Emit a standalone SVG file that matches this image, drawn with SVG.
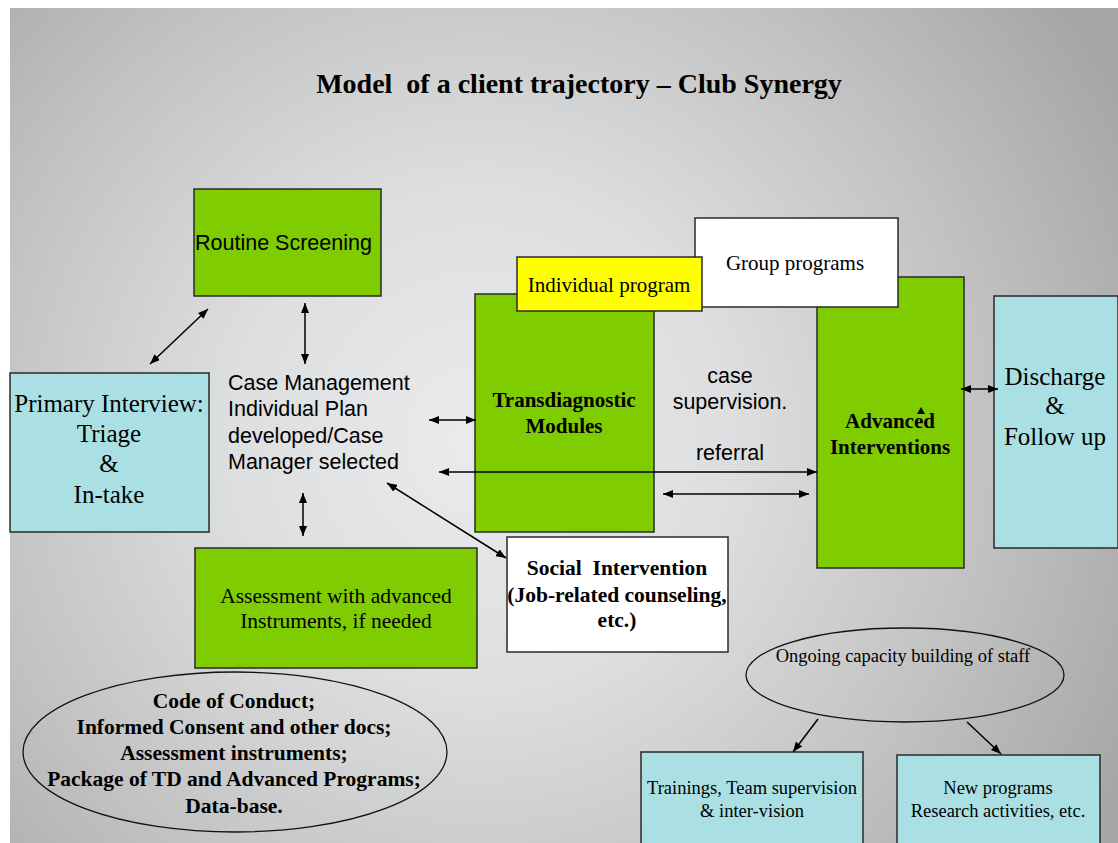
<svg xmlns="http://www.w3.org/2000/svg" width="1118" height="843" viewBox="0 0 1118 843">
<defs>
<radialGradient id="bg" gradientUnits="userSpaceOnUse" cx="480" cy="440" r="720">
<stop offset="0" stop-color="#EAEBEC"/>
<stop offset="0.35" stop-color="#DDDEDF"/>
<stop offset="0.7" stop-color="#C2C2C3"/>
<stop offset="1" stop-color="#A7A7A8"/>
</radialGradient>
<marker id="ah" viewBox="0 0 10 8" refX="10" refY="4" markerWidth="10" markerHeight="8" markerUnits="userSpaceOnUse" orient="auto-start-reverse">
<path d="M0,0 L10,4 L0,8 z" fill="#000"/>
</marker>
<style>
.g{fill:#7FCC00;stroke:#2a2a2a;stroke-width:1.5}
.b{fill:#AAE0E4;stroke:#2a2a2a;stroke-width:1.5}
.w{fill:#FFFFFF;stroke:#2a2a2a;stroke-width:1.5}
.y{fill:#FFFF00;stroke:#2a2a2a;stroke-width:1.5}
.el{fill:none;stroke:#111;stroke-width:1.3}
.tr{font-family:"Liberation Serif","Times New Roman",serif;fill:#000;text-anchor:middle}
.tb{font-family:"Liberation Serif","Times New Roman",serif;font-weight:bold;fill:#000;text-anchor:middle}
.ar{font-family:"Liberation Sans",Arial,sans-serif;fill:#000}
.c{stroke:#000;stroke-width:1.5;fill:none;marker-end:url(#ah)}
.d{marker-start:url(#ah)}
</style>
</defs>
<rect x="0" y="0" width="1118" height="843" fill="#FFFFFF"/>
<rect x="10" y="8" width="1108" height="835" fill="url(#bg)"/>
<text class="tb" x="579" y="93" font-size="28">Model&#160; of a client trajectory – Club Synergy</text>

<g id="routine-screening">
<rect class="g" x="194" y="189" width="187" height="107"/>
<text class="ar" x="195" y="250" font-size="21.5">Routine Screening</text>
</g>
<g id="primary-interview">
<rect class="b" x="10" y="373" width="199" height="159"/>
<text class="tr" x="109" y="412" font-size="25">Primary Interview:</text>
<text class="tr" x="109" y="442" font-size="25">Triage</text>
<text class="tr" x="109" y="472" font-size="25">&amp;</text>
<text class="tr" x="109" y="503" font-size="25">In-take</text>
</g>
<g id="case-management">
<text class="ar" x="228" y="390" font-size="21.5">Case Management</text>
<text class="ar" x="228" y="416" font-size="21.5">Individual Plan</text>
<text class="ar" x="228" y="443" font-size="21.5">developed/Case</text>
<text class="ar" x="228" y="469" font-size="21.5">Manager selected</text>
</g>
<g id="assessment">
<rect class="g" x="195" y="548" width="282" height="120"/>
<text class="tr" x="336" y="603" font-size="21.5">Assessment with advanced</text>
<text class="tr" x="336" y="628" font-size="21.5">Instruments, if needed</text>
</g>
<g id="documents">
<ellipse class="el" cx="235" cy="752" rx="212" ry="80"/>
<text class="tb" x="234" y="708" font-size="21.5">Code of Conduct;</text>
<text class="tb" x="234" y="734" font-size="21.5">Informed Consent and other docs;</text>
<text class="tb" x="234" y="760" font-size="21.5">Assessment instruments;</text>
<text class="tb" x="234" y="786" font-size="21.5">Package of TD and Advanced Programs;</text>
<text class="tb" x="234" y="813" font-size="21.5">Data-base.</text>
</g>
<g id="advanced-interventions">
<rect class="g" x="817" y="277" width="147" height="291"/>
<text class="tb" x="890" y="428" font-size="21">Advanced</text>
<text class="tb" x="890" y="454" font-size="21">Interventions</text>
</g>
<g id="transdiagnostic">
<rect class="g" x="475" y="294" width="179" height="238"/>
<text class="tb" x="564" y="407" font-size="21">Transdiagnostic</text>
<text class="tb" x="564" y="433" font-size="21">Modules</text>
</g>
<g id="group-programs">
<rect class="w" x="695" y="218" width="203" height="89"/>
<text class="tr" x="795" y="270" font-size="21">Group programs</text>
</g>
<g id="individual-program">
<rect class="y" x="517" y="257" width="185" height="54"/>
<text class="tr" x="609" y="292" font-size="21">Individual program</text>
</g>
<g id="discharge">
<rect class="b" x="994" y="296" width="124" height="252"/>
<text class="tr" x="1055" y="385" font-size="25">Discharge</text>
<text class="tr" x="1055" y="414" font-size="25">&amp;</text>
<text class="tr" x="1055" y="445" font-size="25">Follow up</text>
</g>
<g id="social-intervention">
<rect class="w" x="507" y="537" width="221" height="115"/>
<text class="tb" x="617" y="575" font-size="21.5" xml:space="preserve">Social  Intervention</text>
<text class="tb" x="617" y="602" font-size="21.5">(Job-related counseling,</text>
<text class="tb" x="617" y="627" font-size="21.5">etc.)</text>
</g>
<g id="labels">
<text class="ar" x="730" y="383" font-size="21.5" text-anchor="middle">case</text>
<text class="ar" x="730" y="409" font-size="21.5" text-anchor="middle">supervision.</text>
<text class="ar" x="730" y="460" font-size="21.5" text-anchor="middle">referral</text>
</g>
<g id="capacity-building">
<ellipse class="el" cx="905" cy="675" rx="159" ry="47"/>
<text class="tr" x="903" y="662" font-size="18.5">Ongoing capacity building of staff</text>
</g>
<g id="trainings">
<rect class="b" x="641" y="752" width="222" height="100"/>
<text class="tr" x="752" y="794" font-size="18.5">Trainings, Team supervision</text>
<text class="tr" x="752" y="817" font-size="18.5">&amp; inter-vision</text>
</g>
<g id="new-programs">
<rect class="b" x="897" y="755" width="203" height="100"/>
<text class="tr" x="998" y="794" font-size="18.5">New programs</text>
<text class="tr" x="998" y="817" font-size="18.5">Research activities, etc.</text>
</g>

<g id="connectors">
<line class="c d" x1="150" y1="364" x2="208" y2="309"/>
<line class="c d" x1="305" y1="303" x2="305" y2="364"/>
<line class="c d" x1="303" y1="493" x2="303" y2="536"/>
<line class="c d" x1="429" y1="420" x2="476" y2="420"/>
<line class="c d" x1="439" y1="472" x2="817" y2="472"/>
<line class="c d" x1="663" y1="494" x2="809" y2="494"/>
<line class="c d" x1="387" y1="483" x2="506" y2="558"/>
<line class="c d" x1="961" y1="389" x2="998" y2="389"/>
<line class="c" x1="818" y1="719" x2="793" y2="752"/>
<line class="c" x1="967" y1="722" x2="1001" y2="754"/>
<polygon points="921,407 917,414 925,414" fill="#000"/>
</g>
</svg>
